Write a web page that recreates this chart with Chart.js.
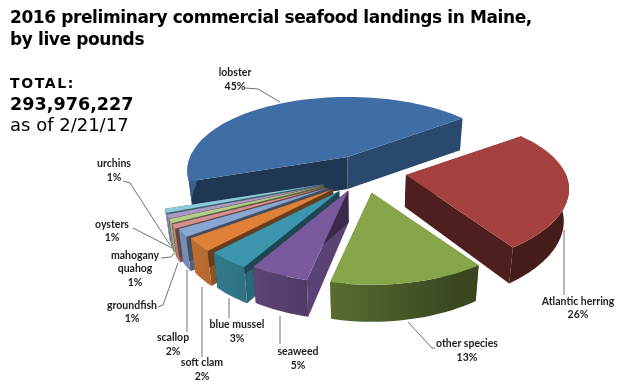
<!DOCTYPE html>
<html><head><meta charset="utf-8">
<style>html,body{margin:0;padding:0;background:#fff}canvas{display:block}</style>
<script src="https://cdn.jsdelivr.net/npm/chart.js@4/dist/chart.umd.min.js"></script>
</head><body><canvas id="c" width="624" height="390"></canvas>
<script>
const categories=["lobster","Atlantic herring","other species","seaweed","blue mussel","soft clam","scallop","groundfish","mahogany quahog","oysters","urchins"];
const percents=[45,26,13,5,3,2,2,1,1,1,1];
const colors=["#3f6da5","#a5423f","#87a64a","#7a5a9c","#3d96ae","#e0813a","#8aa6d2","#d6908d","#b6cd88","#a998c6","#8accdc"];
const explode=[25,44,21,20,24,26,28,30,30,30,30];
const titleLines=["2016 preliminary commercial seafood landings in Maine,","by live pounds"];
const totalLines=["TOTAL:","293,976,227","as of 2/21/17"];

// view settings: how the flat pie is tipped into a 3D look
const SHIFT_X=45, RX=163, RX_LEFT=160, DEPTH=32, OFFSET_Y=0.88;
const WARP=[[-207,-188],[-126,-126],[-45,-45],[48.6,49],[95.4,105],[113.4,126.5],[124.2,141.7],[131.4,152.8],[153,172]];
const NUDGE_X=[0,0,5,-5,-6,-7,-8,-9,-9,-9,-9];
const NUDGE_Y=[0,-1,0,0,1,2,3,4,4,5,5];
const PAINT=[0,1,10,9,8,7,6,5,4,3,2];
const LABELS=[
 {x:235,y:[73,87],lines:[[245,88,258,89,280,102]]},
 {x:578,y:[302,315],lines:[[564,230,564,295]]},
 {x:467,y:[344,358],lines:[[408,322,432,348,435,348]]},
 {x:298,y:[352,366],lines:[[280,316,280,344]]},
 {x:237,y:[325,339],lines:[[229,298,229,318]]},
 {x:202,y:[363,377],lines:[[202,287,202,357]]},
 {x:173,y:[338,352],lines:[[187,270,187,332]]},
 {x:132,y:[306,319],lines:[[158,307,163,305,178,263]]},
 {x:135,y:[256,269,283],lines:[[161,258,171,257,174,253]],split:true},
 {x:112,y:[225,238],lines:[[133,228,172,248]]},
 {x:114,y:[164,178],lines:[[123,181,130,183,170,245]]}
];

function warp(t){
  while(t<-207.001)t+=360;
  for(let i=1;i<WARP.length;i++){
    const a=WARP[i-1],b=WARP[i];
    if(t<=b[0]+1e-6)return a[1]+(t-a[0])/(b[0]-a[0])*(b[1]-a[1]);
  }
  const last=WARP[WARP.length-1];return last[1]+(t-last[0]);
}
function shade(hex,f){
  const n=parseInt(hex.slice(1),16);
  return `rgb(${Math.round((n>>16&255)*f)},${Math.round((n>>8&255)*f)},${Math.round((n&255)*f)})`;
}
function surface(deg){
  const r=deg*Math.PI/180,c=Math.cos(r),s=Math.sin(r);
  return {dx:(c<0?RX_LEFT:RX)*c,dy:76*s+16*s*s+14*c*c,front:Math.max(s,0),c,s};
}
function poly(ctx,pts,fill){
  ctx.beginPath();pts.forEach((p,j)=>j?ctx.lineTo(p.x,p.y):ctx.moveTo(p.x,p.y));ctx.closePath();
  ctx.fillStyle=fill;ctx.fill();
}
const pie3d={id:'pie3d',
 beforeDraw(chart){chart.ctx.letterSpacing='-0.4px';},
 beforeDatasetsDraw(chart){
  const ctx=chart.ctx,meta=chart.getDatasetMeta(0),ds=chart.data.datasets[0];
  ctx.letterSpacing='0px';
  PAINT.forEach(i=>{
    const arc=meta.data[i],base=ds.backgroundColor[i];
    const cx=arc.x+SHIFT_X,cy=arc.y;
    const sDeg=arc.startAngle*180/Math.PI,eDeg=arc.endAngle*180/Math.PI;
    const a0=warp(sDeg),a1Raw=warp(eDeg-1e-6);
    const a1=a1Raw<a0?a1Raw+360:a1Raw;
    const mid=warp((sDeg+eDeg)/2)*Math.PI/180,off=ds.offset[i];
    const ax=cx+off*Math.cos(mid)+NUDGE_X[i],ay=cy+off*OFFSET_Y*Math.sin(mid)+NUDGE_Y[i];
    const top=[],bot=[],n=Math.max(4,Math.round((a1-a0)/2));
    const low=(p,fr)=>({x:p.x+(cx-p.x)*.025,y:p.y+DEPTH+5*fr});
    const apexTop={x:ax,y:ay},apexBot=low(apexTop,0);
    for(let k=0;k<=n;k++){
      const q=surface(a0+(a1-a0)*k/n),p={x:ax+q.dx,y:ay+q.dy};
      top.push(p);bot.push(low(p,q.front));
    }
    const radial=(p,pb,deg,sign)=>{
      const nx=Math.cos((deg+sign*90)*Math.PI/180);
      poly(ctx,[apexTop,p,pb,apexBot],shade(base,.47+.28*Math.max(nx,0)));
    };
    radial(top[0],bot[0],a0,-1);
    radial(top[n],bot[n],a1,1);
    // outer rim as one shape with a left-to-right shading
    const rimT=[],rimB=[],stops=[];
    for(let k=0;k<=n;k++){
      const d=a0+(a1-a0)*k/n,q=surface(d);
      if(q.s>-0.25){rimT.push(top[k]);rimB.push(bot[k]);stops.push({x:top[k].x,f:Math.max(.42,.58-.3*q.c)});}
    }
    if(rimT.length>1){
      const xs=stops.map(s=>s.x),x0=Math.min(...xs),x1=Math.max(...xs);
      const g=ctx.createLinearGradient(x0,0,x1,0);
      stops.sort((u,v)=>u.x-v.x).forEach(s=>g.addColorStop((s.x-x0)/(x1-x0),shade(base,s.f)));
      poly(ctx,rimT.concat(rimB.slice().reverse()),g);
    }
    poly(ctx,[apexTop].concat(top),base);
  });
  // leader lines and labels
  ctx.save();
  ctx.textAlign='center';ctx.textBaseline='middle';
  LABELS.forEach((L,i)=>{
    ctx.strokeStyle='#6f6f6f';ctx.lineWidth=1;
    L.lines.forEach(l=>{ctx.beginPath();ctx.moveTo(l[0],l[1]);for(let k=2;k<l.length;k+=2)ctx.lineTo(l[k],l[k+1]);ctx.stroke();});
    const words=L.split?categories[i].split(' '):[categories[i]];
    const rows=[...words,percents[i]+'%'];
    ctx.font='bold 10.5px Lato';ctx.fillStyle='#1e1e1e';
    rows.forEach((t,k)=>ctx.fillText(t,L.x,L.y[k]));
  });
  ctx.textAlign='left';ctx.fillStyle='#000';
  ctx.font='bold 14px "DejaVu Sans"';ctx.letterSpacing='1.6px';ctx.fillText(totalLines[0],10,84);ctx.letterSpacing='0px';
  ctx.font='bold 17.6px "DejaVu Sans"';ctx.fillText(totalLines[1],10,105);
  ctx.font='18px "DejaVu Sans"';ctx.fillText(totalLines[2],10,126);
  ctx.restore();
  return false;
 }
};
new Chart(document.getElementById('c'),{
 type:'pie',
 data:{labels:categories,datasets:[{data:percents,backgroundColor:colors,offset:explode,borderWidth:0}]},
 options:{responsive:false,animation:false,rotation:-117,
  layout:{padding:{left:10,right:0,top:0,bottom:95}},
  plugins:{legend:{display:false},tooltip:{enabled:false},
   title:{display:true,text:titleLines,align:'start',color:'#000',
    font:{family:'"DejaVu Sans"',size:17,weight:'bold',lineHeight:1.28},padding:{top:8,bottom:3}}}
 },
 plugins:[pie3d]
});
</script></body></html>
